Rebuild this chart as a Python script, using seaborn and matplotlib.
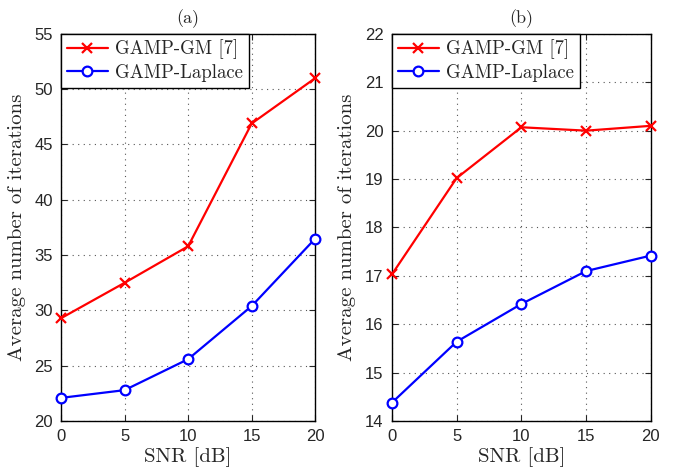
import seaborn as sns
import matplotlib.pyplot as plt
import pandas as pd

# SNR grid and iteration counts
snr = [0, 5, 10, 15, 20]
gm_a = [29.3, 32.5, 35.8, 46.9, 51.0]
laplace_a = [22.1, 22.8, 25.6, 30.4, 36.5]
gm_b = [17.03, 19.02, 20.07, 20.0, 20.1]
laplace_b = [14.38, 15.64, 16.42, 17.1, 17.42]

labels = ["GAMP-GM [7]", "GAMP-Laplace"]
panels = ["(a)", "(b)"]
ylims = [(20, 55), (14, 22)]
yticks = [list(range(20, 56, 5)), list(range(14, 23))]

sns.set_style("ticks")
plt.rcParams["font.family"] = ["Liberation Sans", "DejaVu Sans"]
serif = "cmr10"

fig = plt.figure(figsize=(6.78, 4.70), dpi=100)
ax_a = fig.add_axes([0.090, 0.104, 0.375, 0.824])
ax_b = fig.add_axes([0.578, 0.104, 0.382, 0.824])

data = [(gm_a, laplace_a), (gm_b, laplace_b)]
for i, ax in enumerate([ax_a, ax_b]):
    gm, lap = data[i]
    df = pd.DataFrame({"snr": snr, "gm": gm, "lap": lap})
    sns.lineplot(data=df, x="snr", y="gm", ax=ax, color="#ff0000", marker="x",
                 markersize=7, markeredgecolor="#ff0000", markeredgewidth=1.6,
                 linewidth=1.6, label=labels[0], clip_on=False, zorder=5)
    sns.lineplot(data=df, x="snr", y="lap", ax=ax, color="#0000ff", marker="o",
                 markersize=7, markerfacecolor="white", markeredgecolor="#0000ff",
                 markeredgewidth=1.6, linewidth=1.6, label=labels[1],
                 clip_on=False, zorder=5)
    ax.set_xlim(0, 20)
    ax.set_ylim(*ylims[i])
    ax.set_xticks(snr)
    ax.set_yticks(yticks[i])
    ax.tick_params(direction="in", top=True, right=True, labelsize=12,
                   length=4, width=0.8, pad=6)
    ax.grid(True, linestyle=(0, (1, 4)), color="#555555", linewidth=0.8)
    for s in ax.spines.values():
        s.set_linewidth(1.0)
        s.set_color("black")
    ax.set_xlabel("SNR [dB]", family=serif, fontsize=15, labelpad=2)
    ax.set_ylabel("Average number of iterations", family=serif, fontsize=15, labelpad=6)
    ax.set_title(panels[i], family=serif, fontsize=13, pad=8)
    leg = ax.legend(loc="upper left", borderaxespad=0, prop={"family": serif, "size": 13.5},
                    fancybox=False, framealpha=1, edgecolor="black",
                    handlelength=2.2, borderpad=0.3, labelspacing=0.25, handletextpad=0.4)
    leg.get_frame().set_linewidth(1.0)
    leg.set_zorder(10)

fig.savefig("out.png", dpi=100)
